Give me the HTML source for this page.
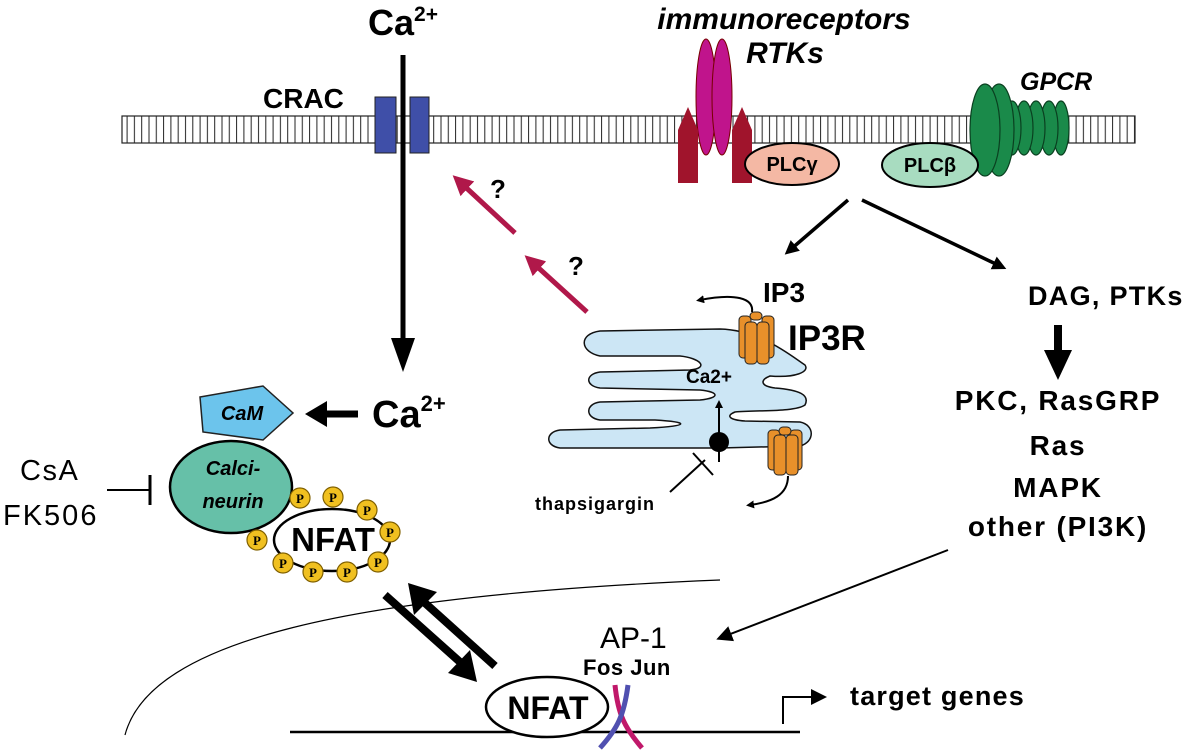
<!DOCTYPE html>
<html><head><meta charset="utf-8"><style>
body{margin:0;background:#fff;}
svg{display:block;font-family:"Liberation Sans",sans-serif;}
</style></head><body>
<svg width="1200" height="753" viewBox="0 0 1200 753">
<defs>
<pattern id="mem" width="7.3" height="30" patternUnits="userSpaceOnUse">
<line x1="3" y1="0" x2="3" y2="30" stroke="#222" stroke-width="1"/>
</pattern>
<marker id="ah" markerWidth="8" markerHeight="8" refX="6" refY="4" orient="auto" markerUnits="strokeWidth"><path d="M0,0 L8,4 L0,8 z" fill="#000"/></marker>
<marker id="ahr" markerWidth="4" markerHeight="4" refX="2" refY="2" orient="auto" markerUnits="strokeWidth"><path d="M0,0 L4,2 L0,4 z" fill="#b0184a"/></marker>
<marker id="ahb" markerWidth="4" markerHeight="4" refX="2" refY="2" orient="auto" markerUnits="strokeWidth"><path d="M0,0 L4,2 L0,4 z" fill="#000"/></marker>
</defs>
<!-- membrane -->
<rect x="122" y="116" width="1013" height="27" fill="url(#mem)" stroke="#222" stroke-width="1.2"/>
<!-- CRAC -->
<rect x="375" y="97" width="21" height="56" fill="#3f4fa8" stroke="#222"/>
<rect x="410" y="97" width="19" height="56" fill="#3f4fa8" stroke="#222"/>
<text x="263" y="108" font-size="28" font-weight="bold">CRAC</text>
<text x="368" y="35" font-size="36" font-weight="bold">Ca<tspan font-size="21" dy="-14">2+</tspan></text>
<line x1="403" y1="55" x2="403" y2="340" stroke="#000" stroke-width="5"/>
<path d="M391,338 L415,338 L403,372 z" fill="#000"/>
<!-- receptors -->
<ellipse cx="706" cy="97" rx="10" ry="58" fill="#c0148c" stroke="#700"/>
<ellipse cx="722" cy="97" rx="10" ry="58" fill="#c0148c" stroke="#700"/>
<path d="M678,183 L678,130 L688,107 L698,130 L698,183 z" fill="#a0142c"/>
<path d="M732,183 L732,130 L742,107 L752,130 L752,183 z" fill="#a0142c"/>
<ellipse cx="792" cy="164" rx="47" ry="21" fill="#f4b8a4" stroke="#000" stroke-width="2"/>
<text x="792" y="171" font-size="20" font-weight="bold" text-anchor="middle">PLCγ</text>
<text x="784" y="29" font-size="30" font-weight="bold" font-style="italic" text-anchor="middle">immunoreceptors</text>
<text x="785" y="63" font-size="30" font-weight="bold" font-style="italic" text-anchor="middle">RTKs</text>
<!-- GPCR -->
<g fill="#1a8a4a" stroke="#0a4020" stroke-width="1.2">
<ellipse cx="1061" cy="128" rx="8" ry="27"/>
<ellipse cx="1049" cy="128" rx="9" ry="27"/>
<ellipse cx="1036" cy="128" rx="9" ry="27"/>
<ellipse cx="1024" cy="128" rx="9" ry="27"/>
<ellipse cx="1012" cy="128" rx="9" ry="27"/>
<ellipse cx="999" cy="130" rx="15" ry="46"/>
<ellipse cx="985" cy="130" rx="15" ry="46"/>
</g>
<ellipse cx="930" cy="165" rx="48" ry="22" fill="#a8dcc0" stroke="#000" stroke-width="2"/>
<text x="930" y="172" font-size="20" font-weight="bold" text-anchor="middle">PLCβ</text>
<text x="1020" y="90" font-size="25" font-weight="bold" font-style="italic">GPCR</text>
<!-- PLC arrows -->
<line x1="848" y1="200" x2="790" y2="250" stroke="#000" stroke-width="3.5" marker-end="url(#ahb)"/>
<line x1="862" y1="200" x2="1000" y2="266" stroke="#000" stroke-width="3.5" marker-end="url(#ahb)"/>
<!-- red arrows -->
<line x1="515" y1="233" x2="460" y2="182" stroke="#b0184a" stroke-width="5" marker-end="url(#ahr)"/>
<line x1="587" y1="312" x2="532" y2="262" stroke="#b0184a" stroke-width="5" marker-end="url(#ahr)"/>
<text x="490" y="198" font-size="26" font-weight="bold">?</text>
<text x="568" y="275" font-size="26" font-weight="bold">?</text>
<!-- ER -->
<path d="M600,331 L720,329 C760,330 790,355 805,365 C810,372 795,378 770,376 C760,380 760,386 775,388 C800,390 810,395 805,405 C795,412 760,410 735,412 C725,416 730,420 745,421 L800,422 C815,425 815,442 800,446 L720,448 L560,448 C545,446 545,432 560,430 L650,428 C690,426 690,422 655,420 L600,420 C585,418 585,404 600,402 L700,400 C720,398 720,392 700,390 L600,388 C585,386 585,374 600,372 L690,370 C710,368 700,358 680,356 L600,356 C580,352 578,334 600,331 z" fill="#cce6f5" stroke="#111" stroke-width="1.5"/>
<g fill="#e8902a" stroke="#222" stroke-width="1">
<rect x="739" y="316" width="12" height="42" rx="4"/><rect x="762" y="316" width="12" height="42" rx="4"/>
<rect x="750" y="312" width="12" height="8" rx="4"/>
<rect x="745" y="322" width="12" height="42" rx="4"/><rect x="757" y="322" width="12" height="42" rx="4"/>
<rect x="768" y="430" width="12" height="40" rx="4"/><rect x="790" y="430" width="12" height="40" rx="4"/>
<rect x="779" y="427" width="12" height="8" rx="4"/>
<rect x="774" y="435" width="12" height="40" rx="4"/><rect x="786" y="435" width="12" height="40" rx="4"/>
</g>
<path d="M752,312 C754,298 735,293 700,300" fill="none" stroke="#000" stroke-width="2" marker-end="url(#ahb)"/>
<path d="M788,476 C788,495 772,502 750,505" fill="none" stroke="#000" stroke-width="2" marker-end="url(#ahb)"/>
<text x="763" y="302" font-size="28" font-weight="bold">IP3</text>
<text x="788" y="350" font-size="35" font-weight="bold">IP3R</text>
<text x="686" y="383" font-size="19" font-weight="bold">Ca2+</text>
<path d="M719,438 L719,404" stroke="#000" stroke-width="2" marker-end="url(#ahb)"/>
<circle cx="719" cy="442" r="10" fill="#000"/>
<line x1="719" y1="442" x2="719" y2="462" stroke="#000" stroke-width="2"/>
<line x1="670" y1="492" x2="705" y2="460" stroke="#000" stroke-width="2"/>
<line x1="693" y1="453" x2="713" y2="475" stroke="#000" stroke-width="2"/>
<text x="535" y="510" font-size="18" font-weight="bold" letter-spacing="1">thapsigargin</text>
<!-- right column -->
<text x="1028" y="305" font-size="27" font-weight="bold" letter-spacing="1.3">DAG, PTKs</text>
<line x1="1058" y1="325" x2="1058" y2="352" stroke="#000" stroke-width="8"/>
<path d="M1044,350 L1072,350 L1058,380 z" fill="#000"/>
<g font-size="28" font-weight="bold" text-anchor="middle" letter-spacing="1.8">
<text x="1058" y="410">PKC, RasGRP</text>
<text x="1058" y="455">Ras</text>
<text x="1058" y="497">MAPK</text>
<text x="1058" y="536">other (PI3K)</text>
</g>
<line x1="948" y1="550" x2="720" y2="638" stroke="#000" stroke-width="2" marker-end="url(#ah)"/>
<!-- Ca2+ middle -->
<text x="372" y="427" font-size="38" font-weight="bold">Ca<tspan font-size="22" dy="-16">2+</tspan></text>
<line x1="358" y1="414" x2="325" y2="414" stroke="#000" stroke-width="7"/>
<path d="M327,401 L327,427 L305,414 z" fill="#000"/>
<!-- CaM -->
<path d="M200,397 L263,386 L293,413 L263,440 L203,432 z" fill="#6cc4ec" stroke="#222" stroke-width="1.5"/>
<text x="242" y="420" font-size="20" font-weight="bold" font-style="italic" text-anchor="middle">CaM</text>
<!-- Calcineurin -->
<ellipse cx="231" cy="487" rx="61" ry="46" fill="#66c0a8" stroke="#000" stroke-width="2.5"/>
<text x="233" y="475" font-size="20" font-weight="bold" font-style="italic" text-anchor="middle">Calci-</text>
<text x="233" y="508" font-size="20" font-weight="bold" font-style="italic" text-anchor="middle">neurin</text>
<text x="20" y="480" font-size="29" letter-spacing="1.5">CsA</text>
<text x="3" y="525" font-size="29" letter-spacing="2">FK506</text>
<line x1="107" y1="490" x2="150" y2="490" stroke="#000" stroke-width="2"/>
<line x1="150" y1="475" x2="150" y2="505" stroke="#000" stroke-width="3"/>
<!-- NFAT with P -->
<ellipse cx="332" cy="540" rx="58" ry="31" fill="#fff" stroke="#000" stroke-width="2.5"/>
<text x="333" y="551" font-size="33" font-weight="bold" text-anchor="middle">NFAT</text>
<g fill="#f0c020" stroke="#806000" stroke-width="1.2">
<circle cx="300" cy="498" r="10"/><circle cx="333" cy="497" r="10"/><circle cx="367" cy="510" r="10"/><circle cx="390" cy="532" r="10"/><circle cx="378" cy="562" r="10"/><circle cx="347" cy="572" r="10"/><circle cx="313" cy="572" r="10"/><circle cx="283" cy="563" r="10"/><circle cx="257" cy="540" r="10"/>
</g>
<g font-size="13" font-weight="bold" font-family="Liberation Serif" text-anchor="middle">
<text x="300" y="503">P</text><text x="333" y="502">P</text><text x="367" y="515">P</text><text x="390" y="537">P</text><text x="378" y="567">P</text><text x="347" y="577">P</text><text x="313" y="577">P</text><text x="283" y="568">P</text><text x="257" y="545">P</text>
</g>
<!-- nucleus -->
<path d="M125,735 C150,640 350,595 720,580" fill="none" stroke="#000" stroke-width="1.2"/>
<line x1="385" y1="595" x2="460" y2="662" stroke="#000" stroke-width="8"/>
<path d="M448,673 L470,650 L477,682 z" fill="#000"/>
<line x1="495" y1="666" x2="425" y2="603" stroke="#000" stroke-width="8"/>
<path d="M437,592 L414,615 L408,583 z" fill="#000"/>
<line x1="290" y1="732" x2="800" y2="732" stroke="#000" stroke-width="2.5"/>
<ellipse cx="547" cy="707" rx="61" ry="30" fill="#fff" stroke="#000" stroke-width="2.5"/>
<text x="548" y="719" font-size="32" font-weight="bold" text-anchor="middle">NFAT</text>
<path d="M615,685 C618,715 625,728 642,748" fill="none" stroke="#c0186a" stroke-width="5"/>
<path d="M628,685 C624,715 618,728 600,748" fill="none" stroke="#5050b0" stroke-width="5"/>
<text x="600" y="648" font-size="30">AP-1</text>
<text x="583" y="675" font-size="22" font-weight="bold" letter-spacing="0.5">Fos Jun</text>
<path d="M783,724 L783,697 L813,697" fill="none" stroke="#000" stroke-width="2"/>
<path d="M811,689 L827,697 L811,705 z" fill="#000"/>
<text x="850" y="705" font-size="27" font-weight="bold" letter-spacing="1.2">target genes</text>
</svg>
</body></html>
